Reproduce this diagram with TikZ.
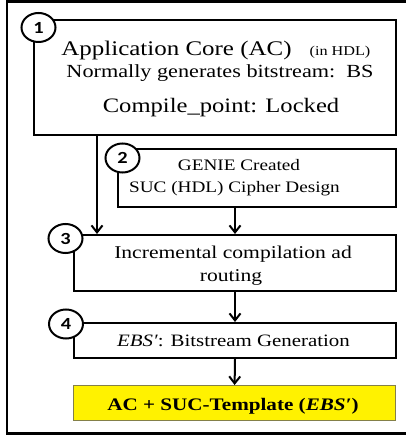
\documentclass[tikz,border=0pt]{standalone}
\usepackage{fontspec}
\setmainfont{Liberation Serif}
\newfontfamily\numfont{Carlito}
\usetikzlibrary{arrows.meta,shapes.geometric}
\newcommand\wide[1]{\scalebox{1.2}[1]{#1}}

\begin{document}
\begin{tikzpicture}[x=1pt, y=-1pt,
    stagebox/.style={draw, line width=2pt, anchor=north west, inner sep=0pt},
    tplbox/.style={stagebox, line width=1.2pt, draw=yellow!45!black, fill=yellow},
    numdot/.style={ellipse, draw, line width=2pt, fill=white, inner sep=0pt, minimum width=34pt, minimum height=29pt, font=\numfont\bfseries\fontsize{17}{17}\selectfont},
    txt/.style={anchor=base, inner sep=0pt},
    arr/.style={line width=2pt, -{Straight Barb[length=7pt, width=11pt, line width=2pt]}}]
\useasboundingbox (0,0) rectangle (405,435);
\draw[line width=2.4pt] (7,1.5) rectangle (412,433.5);

\node[stagebox, minimum width=362pt, minimum height=115pt] (ac) at (33,19) {};
\node[stagebox, minimum width=278pt, minimum height=58pt] (suc) at (117,148) {};
\node[stagebox, minimum width=322pt, minimum height=56pt] (inc) at (73,234) {};
\node[stagebox, minimum width=322pt, minimum height=35pt] (gen) at (73,322) {};
\node[tplbox, minimum width=322pt, minimum height=35pt] (tpl) at (73,385) {};

\coordinate (split) at (97,0);
\draw[arr] (ac.south -| split) -- (inc.north -| split);
\draw[arr] (suc.south -| inc.north) -- (inc.north);
\draw[arr] (inc.south) -- (gen.north);
\draw[arr] (gen.south) -- (tpl.north);

\node[numdot] (n1) at (38.5,27.5) {\wide{1}};
\node[numdot] (n2) at (122.5,158) {\wide{2}};
\node[numdot] (n3) at (65.5,238.5) {\wide{3}};
\node[numdot] (n4) at (66,324) {\wide{4}};

\node[txt, font=\fontsize{20.8}{24}\selectfont] (acname) at (176.5,55.7) {\wide{Application Core (AC)}};
\node[txt, font=\fontsize{13.5}{16}\selectfont] (achdl) at (340,55.7) {\wide{(in HDL)}};
\node[txt, font=\fontsize{18.5}{22}\selectfont] (acbs) at (220,78) {\wide{Normally generates bitstream:\ \ BS}};
\node[txt, font=\fontsize{20.5}{24}\selectfont] (aclock) at (221,113) {\wide{Compile\_point: Locked}};
\node[txt, font=\fontsize{16}{19}\selectfont] (suc1) at (239,170.7) {\wide{GENIE Created}};
\node[txt, font=\fontsize{16}{19}\selectfont] (suc2) at (234.5,193) {\wide{SUC (HDL) Cipher Design}};
\node[txt, font=\fontsize{18}{21}\selectfont] (inc1) at (233,258) {\wide{Incremental compilation ad}};
\node[txt, font=\fontsize{18}{21}\selectfont] (inc2) at (231,281.7) {\wide{routing}};
\node[txt, font=\fontsize{17.4}{21}\selectfont] (gentxt) at (233.5,346.7) {\wide{\textit{EBS′}: Bitstream Generation}};
\node[txt, font=\bfseries\fontsize{17.6}{21}\selectfont] (tpltxt) at (233,410) {\wide{AC + SUC-Template (\textit{EBS′})}};
\end{tikzpicture}
\end{document}
